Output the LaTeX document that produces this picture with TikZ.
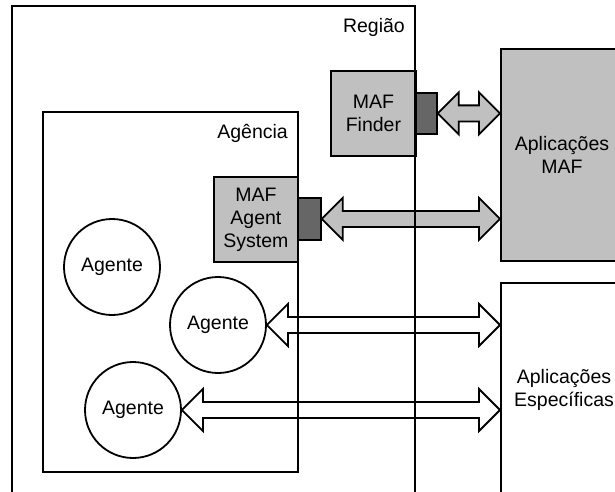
\documentclass[tikz,border=0pt]{standalone}
\usepackage{fontspec}
\setmainfont{Liberation Sans}
\usetikzlibrary{calc}
\definecolor{lgray}{HTML}{C0C0C0}
\definecolor{dgray}{HTML}{666666}
\tikzset{
  lw/.style={line width=1.8pt},
  txt/.style={font=\fontsize{19.5}{23}\selectfont, align=center, inner sep=0pt},
  graybox/.style={lw, draw=black, fill=lgray, rectangle, inner sep=0pt, txt},
  darkbox/.style={lw, draw=black, fill=dgray, rectangle, inner sep=0pt},
  whitebox/.style={lw, draw=black, fill=white, rectangle, inner sep=0pt},
  agent/.style={lw, draw=black, fill=white, circle, minimum size=96pt, inner sep=0pt, txt},
  grayarrow/.style={lw, draw=black, fill=lgray, line join=miter},
  whitearrow/.style={lw, draw=black, fill=white, line join=miter},
}
\newcommand\dblarr[3]{%
  \draw[#3] let \p1=#1, \p2=#2 in
    (\x1,\y1) -- (\x1+21pt,\y1+21pt) -- (\x1+21pt,\y1+8pt) -- (\x2-21pt,\y1+8pt)
    -- (\x2-21pt,\y1+21pt) -- (\x2,\y1) -- (\x2-21pt,\y1-21pt) -- (\x2-21pt,\y1-8pt)
    -- (\x1+21pt,\y1-8pt) -- (\x1+21pt,\y1-21pt) -- cycle;}
\begin{document}
\begin{tikzpicture}[x=1pt,y=-1pt]
\useasboundingbox (0,0) rectangle (615,492);
\clip (0,0) rectangle (615,492);
\fill[white] (0,0) rectangle (615,492);
% application boxes (extend past the right edge)
\node[graybox, minimum width=130pt, minimum height=212pt, anchor=north west] (mafapp) at (500,48) {};
\node[txt] (mafapptxt) at (562,155) {Aplicações\\MAF};
\node[whitebox, minimum width=130pt, minimum height=240pt, anchor=north west] (espec) at (500,282) {};
\node[txt] (espectxt) at (564,390) {Aplicações\\Específicas};
% components
\node[graybox, minimum width=85pt, minimum height=85pt, anchor=north west] (finder) at (330,70) {MAF\\Finder};
\node[darkbox, minimum width=21pt, minimum height=41pt, anchor=north west] (fdark) at (415,92) {};
\node[graybox, minimum width=84pt, minimum height=85pt, anchor=north west] (agsys) at (213,176) {MAF\\Agent\\System};
\node[darkbox, minimum width=23pt, minimum height=42pt, anchor=north west] (adark) at (297,197) {};
\node[agent] (ag1) at (112,267) {Agente};
\node[agent] (ag2) at (218,325) {Agente};
\node[agent] (ag3) at (133,410) {Agente};
% arrows
\dblarr{(fdark.east)}{(mafapp.west)}{grayarrow}
\dblarr{(adark.east)}{(mafapp.west)}{grayarrow}
\dblarr{(ag2.east)}{(espec.west)}{whitearrow}
\dblarr{(ag3.east)}{(espec.west)}{whitearrow}
% region and agency outlines (drawn over the arrows)
\draw[lw] (12,500) -- (12,6) -- (415,6) -- (415,500);
\draw[lw] (43,112) rectangle (298,472);
\node[txt, anchor=east] (regiao) at (405,27) {Região};
\node[txt, anchor=east] (agencia) at (288,133) {Agência};
\end{tikzpicture}
\end{document}
